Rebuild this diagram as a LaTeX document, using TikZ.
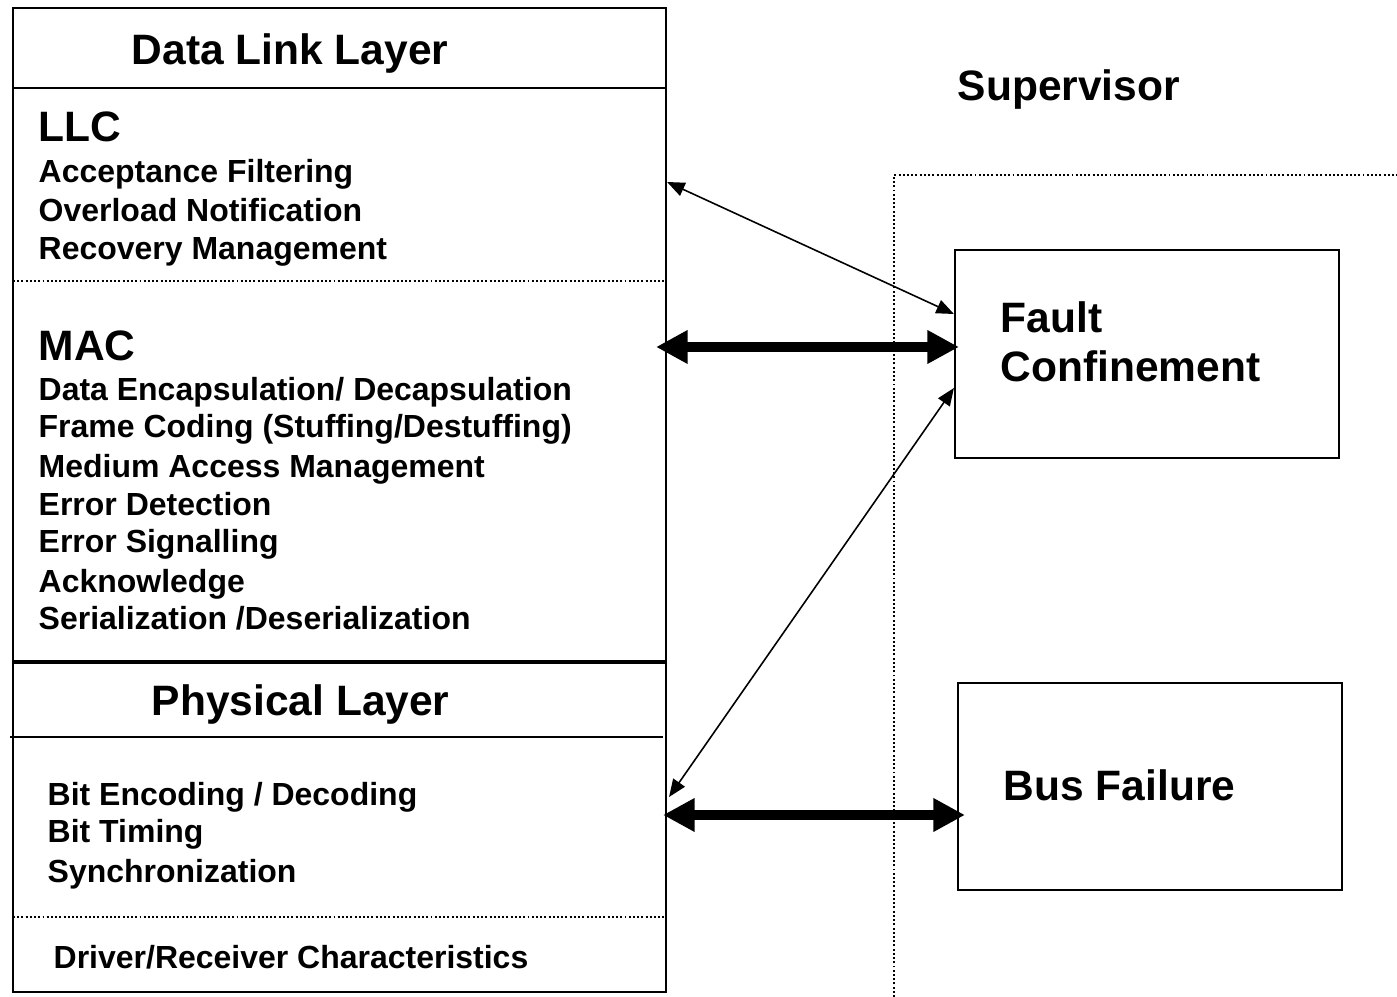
\documentclass[tikz,border=0pt]{standalone}
\usepackage{fontspec}
\setmainfont{Liberation Sans}
\usetikzlibrary{arrows.meta}

\tikzset{
	box/.style={draw, line width=0.6pt, inner sep=0pt},
	item/.style={anchor=base west, inner sep=0pt, font=\fontsize{9.1}{11}\selectfont\bfseries},
	head/.style={anchor=base west, inner sep=0pt, font=\fontsize{12.1}{14.2}\selectfont\bfseries},
	sep/.style={line width=0.6pt, dash pattern=on 0.55pt off 0.65pt},
	thinarr/.style={line width=0.45pt, {Triangle[length=5pt,width=4pt]}-{Triangle[length=5pt,width=4pt]}},
	thickarr/.style={line width=2.8pt, {Triangle[length=9pt,width=9pt]}-{Triangle[length=9pt,width=9pt]}}
}

\begin{document}
\begin{tikzpicture}
	\useasboundingbox (0,0) rectangle (13.97,-9.97);

	% protocol stack
	\node[box, minimum width=6.53cm, minimum height=9.84cm] (dll) at (3.395,-5.00) {};
	\draw[line width=0.6pt] (0.13,-0.88) -- (6.66,-0.88);          % under title
	\draw[sep] (0.13,-2.81) -- (6.66,-2.81);                        % LLC / MAC
	\draw[line width=1.2pt] (0.13,-6.62) -- (6.66,-6.62);           % data link / physical
	\draw[line width=0.6pt] (0.10,-7.37) -- (6.63,-7.37);
	\draw[sep] (0.13,-9.17) -- (6.66,-9.17);

	\node[head] (title) at (1.31,-0.65) {Data Link Layer};
	\node[head] (llc) at (0.38,-1.42) {LLC};
	\node[item] (llc1) at (0.38,-1.83) {Acceptance Filtering};
	\node[item] (llc2) at (0.38,-2.22) {Overload Notification};
	\node[item] (llc3) at (0.38,-2.60) {Recovery Management};

	\node[head] (mac) at (0.38,-3.61) {MAC};
	\node[item] (mac1) at (0.38,-4.01) {Data Encapsulation/ Decapsulation};
	\node[item] (mac2) at (0.38,-4.38) {Frame Coding (Stuffing/Destuffing)};
	\node[item] (mac3) at (0.38,-4.78) {Medium Access Management};
	\node[item] (mac4) at (0.38,-5.16) {Error Detection};
	\node[item] (mac5) at (0.38,-5.53) {Error Signalling};
	\node[item] (mac6) at (0.38,-5.93) {Acknowledge};
	\node[item] (mac7) at (0.38,-6.30) {Serialization /Deserialization};

	\node[head] (phy) at (1.51,-7.16) {Physical Layer};
	\node[item] (phy1) at (0.47,-8.06) {Bit Encoding / Decoding};
	\node[item] (phy2) at (0.47,-8.43) {Bit Timing};
	\node[item] (phy3) at (0.47,-8.83) {Synchronization};
	\node[item] (drv) at (0.53,-9.69) {Driver/Receiver Characteristics};

	% supervisor
	\draw[sep] (8.94,-9.97) -- (8.94,-1.75) -- (13.97,-1.75);
	\node[head] (sup) at (9.57,-1.01) {Supervisor};

	\node[box, minimum width=3.84cm, minimum height=2.08cm] (fault) at (11.47,-3.54) {};
	\node[head, align=left] (faulttxt) at (10.00,-3.82) {Fault\\Confinement};   % base = last line

	\node[box, minimum width=3.84cm, minimum height=2.07cm] (bus) at (11.50,-7.865) {};
	\node[head] (bustxt) at (10.03,-8.01) {Bus Failure};

	% connections
	\draw[thinarr] ([yshift=3.18cm]dll.east) -- ([yshift=0.40cm]fault.west);
	\draw[thickarr] ([xshift=-0.11cm,yshift=1.53cm]dll.east) -- ([xshift=0.05cm,yshift=0.07cm]fault.west);
	\draw[thinarr] ([xshift=0.02cm,yshift=-2.97cm]dll.east) -- ([yshift=-0.34cm]fault.west);
	\draw[thickarr] ([xshift=-0.04cm,yshift=-3.15cm]dll.east) -- ([xshift=0.08cm,yshift=-0.285cm]bus.west);

\end{tikzpicture}
\end{document}
